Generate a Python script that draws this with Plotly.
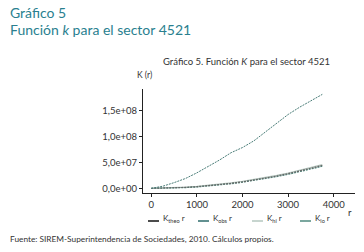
import plotly.graph_objects as go

# distance r
r = [0, 250, 500, 750, 1000, 1250, 1500, 1750, 2000, 2250, 2500, 2750, 3000, 3250, 3500, 3750]
# K functions
k_obs = [0, 4.0e6, 1.1e7, 1.9e7, 3.0e7, 4.2e7, 5.5e7, 6.9e7, 7.9e7, 9.2e7, 1.09e8, 1.27e8, 1.43e8, 1.57e8, 1.70e8, 1.82e8]
k_theo = [0, 0.2e6, 0.8e6, 1.8e6, 3.1e6, 4.9e6, 7.1e6, 9.6e6, 1.26e7, 1.59e7, 1.96e7, 2.38e7, 2.83e7, 3.32e7, 3.85e7, 4.42e7]
k_hi = [0, 0.5e6, 1.2e6, 2.3e6, 3.7e6, 5.5e6, 7.8e6, 10.4e6, 1.35e7, 1.69e7, 2.07e7, 2.50e7, 2.96e7, 3.46e7, 4.00e7, 4.58e7]
k_lo = [0, 0.0e6, 0.5e6, 1.4e6, 2.6e6, 4.3e6, 6.4e6, 8.9e6, 1.18e7, 1.50e7, 1.86e7, 2.27e7, 2.71e7, 3.19e7, 3.71e7, 4.27e7]

y_ticks = [0, 5e7, 1e8, 1.5e8]
y_ticktext = ["0,0e+00", "5,0e+07", "1,0e+08", "1,5e+08"]
x_ticks = [0, 1000, 2000, 3000, 4000]

legend_names = ["K<sub>theo</sub> r", "K<sub>obs</sub> r", "K<sub>hi</sub> r", "K<sub>lo</sub> r"]
legend_colors = ["#111111", "#2e6b6b", "#b5c7bf", "#4f8a7f"]

FONT = "Lato"
TEAL = "#2a7f8f"
OFF = 8  # page body margin offset compensation
W, H = 212, 104  # plot area size in px
L, T = 143 - OFF, 89 - OFF


def px(x):
    return (x - OFF - L) / W


def py(y):
    return 1 - (y - OFF - T) / H


fig = go.Figure()
fig.add_trace(go.Scatter(x=r, y=k_hi, mode="lines", line=dict(color=legend_colors[2], width=1.3), showlegend=False))
fig.add_trace(go.Scatter(x=r, y=k_lo, mode="lines", line=dict(color=legend_colors[3], width=1.2, dash="2px,1px"), showlegend=False))
fig.add_trace(go.Scatter(x=r, y=k_theo, mode="lines", line=dict(color="#666666", width=1.2, dash="2px,1px"), showlegend=False))
fig.add_trace(go.Scatter(x=r, y=k_obs, mode="lines", line=dict(color="#4a7d78", width=1, dash="2px,1px"), showlegend=False))

fig.update_layout(
    width=364, height=252,
    margin=dict(l=L, r=364 - L - W, t=T, b=252 - T - H),
    paper_bgcolor="white", plot_bgcolor="white",
    font=dict(family=FONT, size=9.5, color="#333333"),
    showlegend=False,
    xaxis=dict(range=[-182, 4467], tickvals=x_ticks, showgrid=False, zeroline=False,
               showline=True, linecolor="#222222", linewidth=1, ticks="outside", ticklen=3,
               tickcolor="#222222", tickfont=dict(size=9.5, color="#333333")),
    yaxis=dict(range=[-9.1e6, 1.924e8], tickvals=y_ticks, ticktext=y_ticktext, showgrid=False,
               zeroline=False, showline=True, linecolor="#222222", linewidth=1, ticks="outside",
               ticklen=3, tickcolor="#222222", tickfont=dict(size=9.5, color="#333333")),
)

# Outer titles
fig.add_annotation(text="Gráfico 5", xref="paper", yref="paper", x=px(8), y=py(12),
                   xanchor="left", yanchor="middle", showarrow=False,
                   font=dict(family=FONT, size=14, color=TEAL))
fig.add_annotation(text="Función <i>k</i> para el sector 4521", xref="paper", yref="paper",
                   x=px(8), y=py(29.5), xanchor="left", yanchor="middle", showarrow=False,
                   font=dict(family=FONT, size=14, color=TEAL))
# Inner title
fig.add_annotation(text="Gráfico 5. Función <i>K</i> para el sector 4521", xref="paper", yref="paper",
                   x=px(246), y=py(61), xanchor="center", yanchor="middle",
                   showarrow=False, font=dict(family=FONT, size=9.5, color="#333333"))
# Axis labels
fig.add_annotation(text="K (r)", xref="paper", yref="paper", x=px(144), y=py(75),
                   xanchor="center", yanchor="middle", showarrow=False,
                   font=dict(family=FONT, size=8.5, color="#333333"))
fig.add_annotation(text="r", xref="paper", yref="paper", x=px(350), y=py(212),
                   xanchor="center", yanchor="middle", showarrow=False,
                   font=dict(family=FONT, size=9.5, color="#333333"))
# Legend (manual)
leg_x = [148, 198, 252, 300]
for name, col, lx in zip(legend_names, legend_colors, leg_x):
    fig.add_shape(type="line", xref="paper", yref="paper",
                  x0=px(lx), x1=px(lx + 11), y0=py(221), y1=py(221),
                  line=dict(color=col, width=1.5))
    fig.add_annotation(text=name, xref="paper", yref="paper", x=px(lx + 13),
                       y=py(218), xanchor="left", yanchor="middle", showarrow=False,
                       font=dict(family=FONT, size=8, color="#333333"))
# Footer
fig.add_annotation(text="Fuente: SIREM-Superintendencia de Sociedades, 2010. Cálculos propios.",
                   xref="paper", yref="paper", x=px(8), y=py(239),
                   xanchor="left", yanchor="middle", showarrow=False,
                   font=dict(family=FONT, size=8.3, color="#333333"))

fig.write_html("out.html")
